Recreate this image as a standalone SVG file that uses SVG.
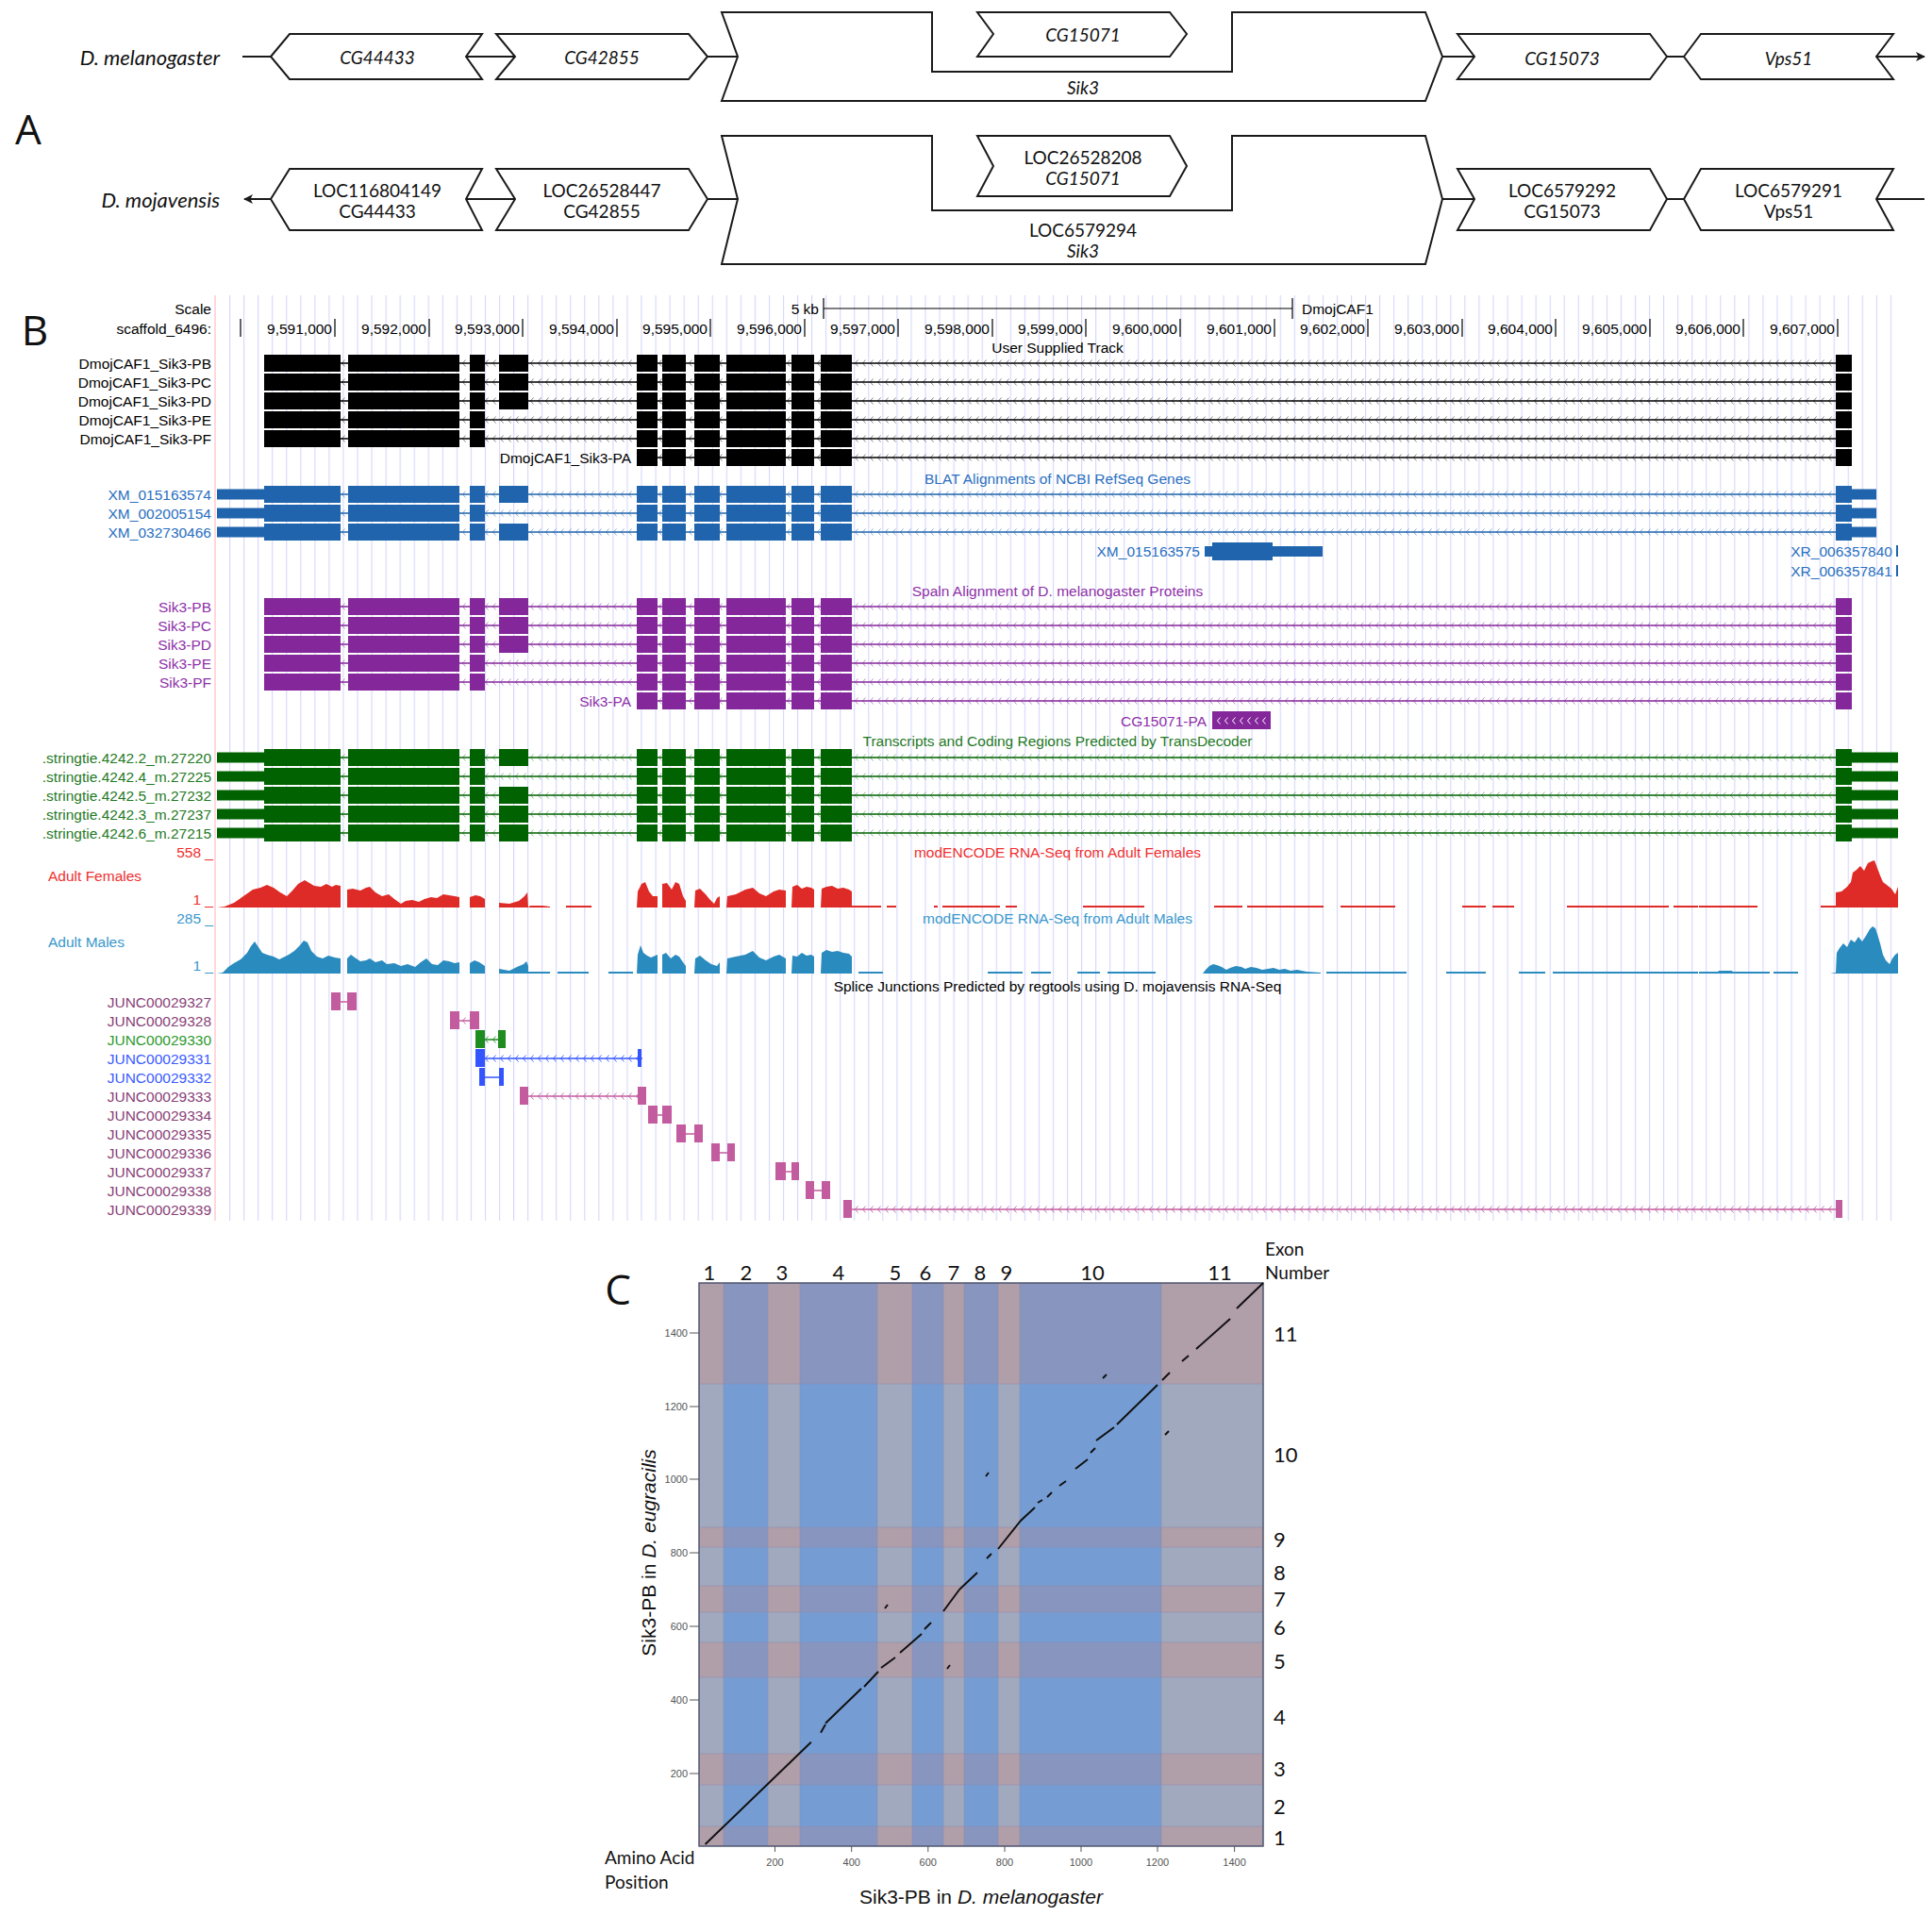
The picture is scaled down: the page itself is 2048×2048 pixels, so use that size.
<svg xmlns="http://www.w3.org/2000/svg" xmlns:xlink="http://www.w3.org/1999/xlink" width="2048" height="2048" viewBox="0 0 2048 2048">
<style>
.ga{font-family:Lato,"Open Sans","Liberation Sans",sans-serif;font-size:19px;fill:#111;text-anchor:middle;dominant-baseline:central}
.gi{font-style:italic}
.sp{font-size:22px;text-anchor:end}
.box{fill:#fff;stroke:#1a1a1a;stroke-width:2;stroke-linejoin:miter}
.ln{stroke:#1a1a1a;stroke-width:2;fill:none}
.pl{font-family:"Open Sans",Lato,sans-serif;font-size:44px;fill:#111;dominant-baseline:central;text-anchor:middle}
.u{font-family:"Liberation Sans",Arial,sans-serif;font-size:15.5px;dominant-baseline:central}
.r{text-anchor:end}
.m{text-anchor:middle}
.k{fill:#000}
.bl{fill:#2a6fc0}
.pu{fill:#8e30a8}
.gr{fill:#1f7a1f}
.rd{fill:#f03030}
.ml{fill:#3a98cc}
.jp{fill:#8a3f78}
.jg{fill:#2e9a2e}
.jb{fill:#3b5bff}
.cl{font-family:Lato,"Open Sans",sans-serif;fill:#111;dominant-baseline:central}
.tk{font-family:"Liberation Sans",Arial,sans-serif;font-size:11px;fill:#555;dominant-baseline:central}
.cP{fill:#a0a9bd}.cB{fill:#759dd4}
.rP{fill:#b09ea9}.rB{fill:#8896bf}
</style>
<defs>
<marker id="arr" viewBox="0 0 10 10" refX="9" refY="5" markerWidth="10" markerHeight="10" markerUnits="userSpaceOnUse" orient="auto"><path d="M0 0L10 5L0 10L2.5 5Z" fill="#1a1a1a"/></marker>
<pattern id="grid" patternUnits="userSpaceOnUse" x="243" y="0" width="15.05" height="10"><rect x="0" y="0" width="1.1" height="10" fill="#d6d6fb"/></pattern>
<pattern id="chK" patternUnits="userSpaceOnUse" width="8" height="10" y="-5"><path d="M5.5 1.5L2.5 5L5.5 8.5" fill="none" stroke="#000" stroke-width="0.9" stroke-opacity="0.55"/></pattern>
<pattern id="chB" patternUnits="userSpaceOnUse" width="8" height="10" y="-5"><path d="M5.5 1.5L2.5 5L5.5 8.5" fill="none" stroke="#1f64ac" stroke-width="0.9" stroke-opacity="0.6"/></pattern>
<pattern id="chP" patternUnits="userSpaceOnUse" width="8" height="10" y="-5"><path d="M5.5 1.5L2.5 5L5.5 8.5" fill="none" stroke="#84279a" stroke-width="0.9" stroke-opacity="0.6"/></pattern>
<pattern id="chG" patternUnits="userSpaceOnUse" width="8" height="10" y="-5"><path d="M5.5 1.5L2.5 5L5.5 8.5" fill="none" stroke="#006200" stroke-width="0.9" stroke-opacity="0.5"/></pattern>
<pattern id="chJ" patternUnits="userSpaceOnUse" width="8" height="10" y="-5"><path d="M5.5 1.5L2.5 5L5.5 8.5" fill="none" stroke="#c35c9f" stroke-width="0.9"/></pattern>
<pattern id="chJB" patternUnits="userSpaceOnUse" width="8" height="10" y="-5"><path d="M5.5 1.5L2.5 5L5.5 8.5" fill="none" stroke="#3355ff" stroke-width="0.9"/></pattern>
<pattern id="chJG" patternUnits="userSpaceOnUse" width="8" height="10" y="-5"><path d="M5.5 1.5L2.5 5L5.5 8.5" fill="none" stroke="#1e8c1e" stroke-width="0.9"/></pattern>
<pattern id="chW" patternUnits="userSpaceOnUse" width="8" height="10" y="-5"><path d="M5.5 1.5L2.5 5L5.5 8.5" fill="none" stroke="#fff" stroke-width="1"/></pattern>
<g id="ex0"><rect x="280" y="-9" width="81" height="18"/><rect x="369" y="-9" width="118" height="18"/><rect x="498" y="-9" width="16" height="18"/><rect x="675" y="-9" width="22" height="18"/><rect x="702" y="-9" width="25" height="18"/><rect x="736" y="-9" width="27" height="18"/><rect x="770" y="-9" width="63" height="18"/><rect x="839" y="-9" width="24" height="18"/><rect x="870" y="-9" width="33" height="18"/><rect x="1946" y="-9" width="17" height="18"/></g>
<rect id="e4" x="529" y="-9" width="31" height="18"/>
<g id="exA"><rect x="675" y="-9" width="22" height="18"/><rect x="702" y="-9" width="25" height="18"/><rect x="736" y="-9" width="27" height="18"/><rect x="770" y="-9" width="63" height="18"/><rect x="839" y="-9" width="24" height="18"/><rect x="870" y="-9" width="33" height="18"/><rect x="1946" y="-9" width="17" height="18"/></g>
<clipPath id="pinkRows"><rect x="741" y="1360" width="598" height="107"/><rect x="741" y="1619" width="598" height="21"/><rect x="741" y="1681" width="598" height="28"/><rect x="741" y="1741" width="598" height="37"/><rect x="741" y="1859" width="598" height="33"/><rect x="741" y="1936" width="598" height="21"/></clipPath>
</defs>
<rect width="2048" height="2048" fill="#fff"/>

<!-- ================= PANEL A ================= -->
<g id="panelA">
<text class="pl" x="30" y="136">A</text>
<g id="connectorsA">
<line class="ln" x1="257" y1="60" x2="287" y2="60"/>
<line class="ln" x1="494" y1="60" x2="546" y2="60"/>
<line class="ln" x1="750" y1="60" x2="782" y2="60"/>
<line class="ln" x1="1529" y1="60" x2="1563" y2="60"/>
<line class="ln" x1="1767" y1="60" x2="1785" y2="60"/>
<line class="ln" x1="1989" y1="60" x2="2040" y2="60" marker-end="url(#arr)"/>
<line class="ln" x1="287" y1="211" x2="259" y2="211" marker-end="url(#arr)"/>
<line class="ln" x1="494" y1="211" x2="546" y2="211"/>
<line class="ln" x1="750" y1="211" x2="782" y2="211"/>
<line class="ln" x1="1529" y1="211" x2="1563" y2="211"/>
<line class="ln" x1="1767" y1="211" x2="1785" y2="211"/>
<line class="ln" x1="1989" y1="211" x2="2040" y2="211"/>
</g>
<text class="ga gi sp" x="233" y="60">D. melanogaster</text>
<text class="ga gi sp" x="233" y="211">D. mojavensis</text>
<g id="mel-CG44433"><polygon class="box" points="287,60 307,36 511,36 494,60 511,84 307,84"/><text class="ga gi" x="400" y="60">CG44433</text></g>
<g id="mel-CG42855"><polygon class="box" points="526,36 730,36 750,60 730,84 526,84 546,60"/><text class="ga gi" x="638" y="60">CG42855</text></g>
<g id="mel-Sik3"><polygon class="box" points="765,13 988,13 988,76 1306,76 1306,13 1511,13 1529,60 1511,107 765,107 782,60"/><text class="ga gi" x="1148" y="92">Sik3</text></g>
<g id="mel-CG15071"><polygon class="box" points="1036,13 1240,13 1258,36 1240,60 1036,60 1053,36"/><text class="ga gi" x="1148" y="36">CG15071</text></g>
<g id="mel-CG15073"><polygon class="box" points="1545,36 1749,36 1767,60 1749,84 1545,84 1563,60"/><text class="ga gi" x="1656" y="61">CG15073</text></g>
<g id="mel-Vps51"><polygon class="box" points="1785,60 1803,36 2007,36 1989,60 2007,84 1803,84"/><text class="ga gi" x="1896" y="61">Vps51</text></g>

<g id="moj-LOC116804149"><polygon class="box" points="287,211 307,179 511,179 494,211 511,244 307,244"/><text class="ga" x="400" y="201">LOC116804149</text><text class="ga" x="400" y="223">CG44433</text></g>
<g id="moj-LOC26528447"><polygon class="box" points="526,179 730,179 750,211 730,244 526,244 546,211"/><text class="ga" x="638" y="201">LOC26528447</text><text class="ga" x="638" y="223">CG42855</text></g>
<g id="moj-LOC6579294"><polygon class="box" points="765,144 988,144 988,223 1306,223 1306,144 1511,144 1529,211 1511,280 765,280 782,211"/><text class="ga" x="1148" y="243">LOC6579294</text><text class="ga gi" x="1148" y="265">Sik3</text></g>
<g id="moj-LOC26528208"><polygon class="box" points="1036,144 1240,144 1258,176 1240,208 1036,208 1053,176"/><text class="ga" x="1148" y="166">LOC26528208</text><text class="ga gi" x="1148" y="188">CG15071</text></g>
<g id="moj-LOC6579292"><polygon class="box" points="1545,179 1749,179 1767,211 1749,244 1545,244 1563,211"/><text class="ga" x="1656" y="201">LOC6579292</text><text class="ga" x="1656" y="223">CG15073</text></g>
<g id="moj-LOC6579291"><polygon class="box" points="1785,211 1803,179 2007,179 1989,211 2007,244 1803,244"/><text class="ga" x="1896" y="201">LOC6579291</text><text class="ga" x="1896" y="223">Vps51</text></g>
</g>

<!-- ================= PANEL B ================= -->
<g id="panelB">
<text class="pl" x="37" y="349">B</text>
<rect x="243" y="313" width="1770" height="981" fill="url(#grid)"/>
<rect x="227.5" y="313" width="1" height="981" fill="#ffb4b4"/>

<g id="ruler">
<text class="u r k" x="224" y="327">Scale</text>
<text class="u r k" x="868" y="327">5 kb</text>
<path d="M873 327H1370M873 316V338M1370 316V338" stroke="#000" stroke-width="1.2" fill="none"/>
<text class="u k" x="1380" y="327">DmojCAF1</text>
<text class="u r k" x="224" y="348">scaffold_6496:</text>
<path d="M255 338V357M355 338V357M455 338V357M554 338V357M654 338V357M753 338V357M853 338V357M952 338V357M1052 338V357M1151 338V357M1251 338V357M1351 338V357M1450 338V357M1550 338V357M1649 338V357M1749 338V357M1848 338V357M1948 338V357" stroke="#000" stroke-width="1.2"/>
<g class="u r k">
<text x="352" y="348">9,591,000</text><text x="452" y="348">9,592,000</text><text x="551" y="348">9,593,000</text><text x="651" y="348">9,594,000</text><text x="750" y="348">9,595,000</text><text x="850" y="348">9,596,000</text><text x="949" y="348">9,597,000</text><text x="1049" y="348">9,598,000</text><text x="1148" y="348">9,599,000</text><text x="1248" y="348">9,600,000</text><text x="1348" y="348">9,601,000</text><text x="1447" y="348">9,602,000</text><text x="1547" y="348">9,603,000</text><text x="1646" y="348">9,604,000</text><text x="1746" y="348">9,605,000</text><text x="1845" y="348">9,606,000</text><text x="1945" y="348">9,607,000</text>
</g>
</g>

<g id="track-user">
<text class="u m k" x="1121" y="368">User Supplied Track</text>
<g class="u r k"><text x="224" y="385">DmojCAF1_Sik3-PB</text><text x="224" y="405">DmojCAF1_Sik3-PC</text><text x="224" y="425">DmojCAF1_Sik3-PD</text><text x="224" y="445">DmojCAF1_Sik3-PE</text><text x="224" y="465">DmojCAF1_Sik3-PF</text><text x="669" y="485">DmojCAF1_Sik3-PA</text></g>
<g fill="#000">
<g transform="translate(0,385)"><rect x="280" y="-0.75" width="1683" height="1.5"/><rect x="280" y="-5" width="1683" height="10" fill="url(#chK)"/><use href="#ex0"/><use href="#e4"/></g>
<g transform="translate(0,405)"><rect x="280" y="-0.75" width="1683" height="1.5"/><rect x="280" y="-5" width="1683" height="10" fill="url(#chK)"/><use href="#ex0"/><use href="#e4"/></g>
<g transform="translate(0,425)"><rect x="280" y="-0.75" width="1683" height="1.5"/><rect x="280" y="-5" width="1683" height="10" fill="url(#chK)"/><use href="#ex0"/><use href="#e4"/></g>
<g transform="translate(0,445)"><rect x="280" y="-0.75" width="1683" height="1.5"/><rect x="280" y="-5" width="1683" height="10" fill="url(#chK)"/><use href="#ex0"/></g>
<g transform="translate(0,465)"><rect x="280" y="-0.75" width="1683" height="1.5"/><rect x="280" y="-5" width="1683" height="10" fill="url(#chK)"/><use href="#ex0"/></g>
<g transform="translate(0,485)"><rect x="675" y="-0.75" width="1288" height="1.5"/><rect x="675" y="-5" width="1288" height="10" fill="url(#chK)"/><use href="#exA"/></g>
</g>
</g>

<g id="track-refseq">
<text class="u m bl" x="1121" y="507">BLAT Alignments of NCBI RefSeq Genes</text>
<g class="u r bl"><text x="224" y="524">XM_015163574</text><text x="224" y="544">XM_002005154</text><text x="224" y="564">XM_032730466</text><text x="1272" y="584">XM_015163575</text><text x="2006" y="584">XR_006357840</text><text x="2006" y="605">XR_006357841</text></g>
<g fill="#1f64ac">
<g transform="translate(0,524)"><rect x="230" y="-0.75" width="1759" height="1.5"/><rect x="280" y="-5" width="1683" height="10" fill="url(#chB)"/><rect x="230" y="-5.5" width="52" height="11"/><rect x="1961" y="-5.5" width="28" height="11"/><use href="#ex0"/><use href="#e4"/></g>
<g transform="translate(0,544)"><rect x="230" y="-0.75" width="1759" height="1.5"/><rect x="280" y="-5" width="1683" height="10" fill="url(#chB)"/><rect x="230" y="-5.5" width="52" height="11"/><rect x="1961" y="-5.5" width="28" height="11"/><use href="#ex0"/></g>
<g transform="translate(0,564)"><rect x="230" y="-0.75" width="1759" height="1.5"/><rect x="280" y="-5" width="1683" height="10" fill="url(#chB)"/><rect x="230" y="-5.5" width="52" height="11"/><rect x="1961" y="-5.5" width="28" height="11"/><use href="#ex0"/><use href="#e4"/></g>
<rect x="1277" y="579" width="125" height="11"/><rect x="1285" y="575" width="64" height="19"/>
<rect x="2010" y="578" width="2" height="12"/><rect x="2010" y="599" width="2" height="12"/>
</g>
</g>

<g id="track-spaln">
<text class="u m pu" x="1121" y="626">Spaln Alignment of D. melanogaster Proteins</text>
<g class="u r pu"><text x="224" y="643">Sik3-PB</text><text x="224" y="663">Sik3-PC</text><text x="224" y="683">Sik3-PD</text><text x="224" y="703">Sik3-PE</text><text x="224" y="723">Sik3-PF</text><text x="669" y="743">Sik3-PA</text><text x="1279" y="764">CG15071-PA</text></g>
<g fill="#84279a">
<g transform="translate(0,643)"><rect x="280" y="-0.75" width="1683" height="1.5"/><rect x="280" y="-5" width="1683" height="10" fill="url(#chP)"/><use href="#ex0"/><use href="#e4"/></g>
<g transform="translate(0,663)"><rect x="280" y="-0.75" width="1683" height="1.5"/><rect x="280" y="-5" width="1683" height="10" fill="url(#chP)"/><use href="#ex0"/><use href="#e4"/></g>
<g transform="translate(0,683)"><rect x="280" y="-0.75" width="1683" height="1.5"/><rect x="280" y="-5" width="1683" height="10" fill="url(#chP)"/><use href="#ex0"/><use href="#e4"/></g>
<g transform="translate(0,703)"><rect x="280" y="-0.75" width="1683" height="1.5"/><rect x="280" y="-5" width="1683" height="10" fill="url(#chP)"/><use href="#ex0"/></g>
<g transform="translate(0,723)"><rect x="280" y="-0.75" width="1683" height="1.5"/><rect x="280" y="-5" width="1683" height="10" fill="url(#chP)"/><use href="#ex0"/></g>
<g transform="translate(0,743)"><rect x="675" y="-0.75" width="1288" height="1.5"/><rect x="675" y="-5" width="1288" height="10" fill="url(#chP)"/><use href="#exA"/></g>
<g transform="translate(0,764)"><rect x="1285" y="-10" width="62" height="19"/><rect x="1287" y="-5" width="58" height="10" fill="url(#chW)"/></g>
</g>
</g>

<g id="track-transdecoder">
<text class="u m gr" x="1121" y="785">Transcripts and Coding Regions Predicted by TransDecoder</text>
<g class="u r gr"><text x="224" y="803">.stringtie.4242.2_m.27220</text><text x="224" y="823">.stringtie.4242.4_m.27225</text><text x="224" y="843">.stringtie.4242.5_m.27232</text><text x="224" y="863">.stringtie.4242.3_m.27237</text><text x="224" y="883">.stringtie.4242.6_m.27215</text></g>
<g fill="#006200">
<g transform="translate(0,803)"><rect x="230" y="-0.75" width="1782" height="1.5"/><rect x="280" y="-5" width="1683" height="10" fill="url(#chG)"/><rect x="230" y="-5.5" width="52" height="11"/><rect x="1961" y="-5.5" width="51" height="11"/><use href="#ex0"/><use href="#e4"/></g>
<g transform="translate(0,823)"><rect x="230" y="-0.75" width="1782" height="1.5"/><rect x="280" y="-5" width="1683" height="10" fill="url(#chG)"/><rect x="230" y="-5.5" width="52" height="11"/><rect x="1961" y="-5.5" width="51" height="11"/><use href="#ex0"/></g>
<g transform="translate(0,843)"><rect x="230" y="-0.75" width="1782" height="1.5"/><rect x="280" y="-5" width="1683" height="10" fill="url(#chG)"/><rect x="230" y="-5.5" width="52" height="11"/><rect x="1961" y="-5.5" width="51" height="11"/><use href="#ex0"/><use href="#e4"/></g>
<g transform="translate(0,863)"><rect x="230" y="-0.75" width="1782" height="1.5"/><rect x="280" y="-5" width="1683" height="10" fill="url(#chG)"/><rect x="230" y="-5.5" width="52" height="11"/><rect x="1961" y="-5.5" width="51" height="11"/><use href="#ex0"/><use href="#e4"/></g>
<g transform="translate(0,883)"><rect x="230" y="-0.75" width="1782" height="1.5"/><rect x="280" y="-5" width="1683" height="10" fill="url(#chG)"/><rect x="230" y="-5.5" width="52" height="11"/><rect x="1961" y="-5.5" width="51" height="11"/><use href="#ex0"/><use href="#e4"/></g>
</g>
</g>

<g id="track-females">
<text class="u m rd" x="1121" y="903">modENCODE RNA-Seq from Adult Females</text>
<text class="u r rd" x="226" y="903">558 _</text>
<text class="u rd" x="51" y="928">Adult Females</text>
<text class="u r rd" x="226" y="953">1 _</text>
<g fill="#df2b27">
<polygon points="230,962 238,961 248,957 258,950 268,943 276,941 283,938 290,941 297,946 304,950 310,944 316,937 323,933 328,936 333,939 340,940 346,937 352,940 356,938 361,939 361,962"/>
<polygon points="368,962 368,943 374,942 382,944 388,941 392,940 398,946 405,950 412,948 418,953 425,958 430,955 437,954 444,956 450,953 457,951 463,952 470,948 476,949 482,950 487,951 487,962"/>
<polygon points="498,962 498,951 504,949 509,950 514,953 514,962"/>
<polygon points="529,962 529,957 540,958 550,955 556,950 559,946 560,962"/>
<polygon points="560,962 562,960 575,960 583,961 583,962"/>
<polygon points="675,962 676,945 680,937 684,935 688,945 692,950 697,950 697,962"/>
<polygon points="702,962 702,937 707,936 712,943 716,935 720,937 724,950 727,955 727,962"/>
<polygon points="736,962 737,944 742,942 748,948 752,953 757,958 760,952 763,950 763,962"/>
<polygon points="770,962 771,950 780,948 790,943 798,941 805,947 812,950 820,945 826,943 833,944 833,962"/>
<polygon points="839,962 840,940 845,938 850,942 855,940 860,941 863,943 863,962"/>
<polygon points="870,962 871,942 876,940 882,939 888,942 894,941 900,943 903,945 903,962"/>
<polygon points="1946,962 1946,946 1952,945 1958,940 1962,935 1964,925 1968,922 1972,918 1976,923 1980,915 1984,913 1987,912 1990,920 1993,928 1996,935 2000,938 2005,942 2009,948 2012,940 2012,962"/>
</g>
<path d="M600 961H627M903 961H934M940 961H950M990 961H994M999 961H1060M1066 961H1078M1148 961H1213M1287 961H1317M1322 961H1403M1421 961H1479M1550 961H1575M1582 961H1605M1661 961H1769M1774 961H1800M1801 961H1863M1930 961H1946" stroke="#df2b27" stroke-width="2"/>
</g>

<g id="track-males">
<text class="u m ml" x="1121" y="973">modENCODE RNA-Seq from Adult Males</text>
<text class="u r ml" x="226" y="973">285 _</text>
<text class="u ml" x="51" y="998">Adult Males</text>
<text class="u r ml" x="226" y="1023">1 _</text>
<g fill="#2a8bbf">
<polygon points="230,1032 236,1031 242,1025 248,1021 255,1017 262,1010 266,1003 270,998 274,1004 278,1010 283,1012 290,1014 296,1017 300,1015 306,1012 312,1008 318,1002 322,997 326,999 330,1008 336,1014 342,1016 348,1013 355,1015 361,1016 361,1032"/>
<polygon points="368,1032 368,1016 372,1012 376,1015 382,1019 388,1018 392,1016 398,1020 405,1018 410,1022 418,1021 425,1024 432,1022 440,1025 446,1020 452,1016 458,1022 464,1023 470,1018 476,1019 482,1021 487,1020 487,1032"/>
<polygon points="498,1032 498,1021 503,1018 508,1020 514,1024 514,1032"/>
<polygon points="529,1032 529,1027 540,1029 548,1025 555,1022 558,1019 560,1024 560,1032"/>
<polygon points="675,1032 676,1012 679,1002 682,1010 686,1013 690,1015 697,1012 697,1032"/>
<polygon points="702,1032 702,1012 706,1010 711,1016 716,1012 720,1014 724,1020 727,1024 727,1032"/>
<polygon points="736,1032 737,1016 742,1013 748,1018 754,1022 760,1024 763,1020 763,1032"/>
<polygon points="770,1032 771,1016 780,1014 790,1012 798,1008 805,1015 812,1018 820,1014 826,1012 833,1016 833,1032"/>
<polygon points="839,1032 840,1013 845,1014 850,1010 855,1013 860,1012 863,1014 863,1032"/>
<polygon points="870,1032 871,1010 876,1007 882,1009 888,1008 894,1010 900,1011 903,1014 903,1032"/>
<polygon points="1275,1032 1278,1028 1282,1024 1286,1022 1290,1023 1295,1025 1300,1028 1304,1026 1310,1024 1316,1025 1320,1027 1326,1025 1332,1026 1338,1028 1344,1027 1350,1026 1356,1028 1362,1027 1368,1029 1375,1028 1385,1030 1400,1031 1400,1032"/>
<polygon points="1820,1032 1822,1029 1836,1029 1838,1032"/>
<polygon points="1940,1032 1946,1031 1947,1010 1950,1005 1954,1000 1958,1004 1962,996 1966,999 1970,993 1974,998 1978,992 1982,985 1985,982 1988,984 1990,990 1993,1000 1996,1012 1999,1018 2003,1022 2006,1016 2009,1012 2012,1010 2012,1032"/>
</g>
<path d="M560 1031H583M591 1031H624M645 1031H671M910 1031H936M1047 1031H1084M1093 1031H1114M1142 1031H1166M1174 1031H1225M1406 1031H1491M1533 1031H1575M1610 1031H1638M1646 1031H1800M1801 1031H1876M1880 1031H1906" stroke="#2a8bbf" stroke-width="2"/>
</g>

<g id="track-junctions">
<text class="u m k" x="1121" y="1045">Splice Junctions Predicted by regtools using D. mojavensis RNA-Seq</text>
<g class="u r jp"><text x="224" y="1062">JUNC00029327</text><text x="224" y="1082">JUNC00029328</text><text x="224" y="1102" class="jg">JUNC00029330</text><text x="224" y="1122" class="jb">JUNC00029331</text><text x="224" y="1142" class="jb">JUNC00029332</text><text x="224" y="1162">JUNC00029333</text><text x="224" y="1182">JUNC00029334</text><text x="224" y="1202">JUNC00029335</text><text x="224" y="1222">JUNC00029336</text><text x="224" y="1242">JUNC00029337</text><text x="224" y="1262">JUNC00029338</text><text x="224" y="1282">JUNC00029339</text></g>
<g fill="#c35c9f">
<g transform="translate(0,1062)"><rect x="351" y="-0.75" width="27" height="1.5"/><rect x="351" y="-10" width="10" height="19"/><rect x="368" y="-10" width="10" height="19"/></g>
<g transform="translate(0,1082)"><rect x="477" y="-0.75" width="31" height="1.5"/><rect x="487" y="-5" width="11" height="10" fill="url(#chJ)"/><rect x="477" y="-10" width="10" height="19"/><rect x="498" y="-10" width="10" height="19"/></g>
<g transform="translate(0,1102)" fill="#1e8c1e"><rect x="504" y="-0.75" width="32" height="1.5"/><rect x="514" y="-5" width="14" height="10" fill="url(#chJG)"/><rect x="504" y="-10" width="10" height="19"/><rect x="528" y="-10" width="8" height="19"/></g>
<g transform="translate(0,1122)" fill="#3355ff"><rect x="504" y="-0.75" width="177" height="1.5"/><rect x="514" y="-5" width="162" height="10" fill="url(#chJB)"/><rect x="504" y="-10" width="10" height="19"/><rect x="676" y="-10" width="4" height="19"/></g>
<g transform="translate(0,1142)" fill="#3355ff"><rect x="508" y="-0.75" width="26" height="1.5"/><rect x="508" y="-10" width="6" height="19"/><rect x="529" y="-10" width="5" height="19"/></g>
<g transform="translate(0,1162)"><rect x="551" y="-0.75" width="134" height="1.5"/><rect x="560" y="-5" width="116" height="10" fill="url(#chJ)"/><rect x="551" y="-10" width="9" height="19"/><rect x="676" y="-10" width="9" height="19"/></g>
<g transform="translate(0,1182)"><rect x="687" y="-0.75" width="25" height="1.5"/><rect x="687" y="-10" width="10" height="19"/><rect x="702" y="-10" width="10" height="19"/></g>
<g transform="translate(0,1202)"><rect x="717" y="-0.75" width="28" height="1.5"/><rect x="717" y="-10" width="10" height="19"/><rect x="736" y="-10" width="9" height="19"/></g>
<g transform="translate(0,1222)"><rect x="754" y="-0.75" width="25" height="1.5"/><rect x="754" y="-10" width="9" height="19"/><rect x="771" y="-10" width="8" height="19"/></g>
<g transform="translate(0,1242)"><rect x="822" y="-0.75" width="25" height="1.5"/><rect x="822" y="-10" width="11" height="19"/><rect x="839" y="-10" width="8" height="19"/></g>
<g transform="translate(0,1262)"><rect x="854" y="-0.75" width="26" height="1.5"/><rect x="854" y="-10" width="9" height="19"/><rect x="871" y="-10" width="9" height="19"/></g>
<g transform="translate(0,1282)"><rect x="894" y="-0.75" width="1059" height="1.5"/><rect x="903" y="-5" width="1043" height="10" fill="url(#chJ)"/><rect x="894" y="-10" width="9" height="19"/><rect x="1946" y="-10" width="7" height="19"/></g>
</g>
</g>
</g>

<!-- ================= PANEL C ================= -->
<g id="panelC">
<text class="pl" x="655" y="1366">C</text>
<g id="cols">
<rect class="cP" x="741" y="1360" width="26" height="597"/><rect class="cB" x="767" y="1360" width="47" height="597"/><rect class="cP" x="814" y="1360" width="34" height="597"/><rect class="cB" x="848" y="1360" width="82" height="597"/><rect class="cP" x="930" y="1360" width="37" height="597"/><rect class="cB" x="967" y="1360" width="33" height="597"/><rect class="cP" x="1000" y="1360" width="22" height="597"/><rect class="cB" x="1022" y="1360" width="36" height="597"/><rect class="cP" x="1058" y="1360" width="23" height="597"/><rect class="cB" x="1081" y="1360" width="150" height="597"/><rect class="cP" x="1231" y="1360" width="108" height="597"/>
</g>
<g id="pinkrows" clip-path="url(#pinkRows)">
<rect class="rP" x="741" y="1360" width="26" height="597"/><rect class="rB" x="767" y="1360" width="47" height="597"/><rect class="rP" x="814" y="1360" width="34" height="597"/><rect class="rB" x="848" y="1360" width="82" height="597"/><rect class="rP" x="930" y="1360" width="37" height="597"/><rect class="rB" x="967" y="1360" width="33" height="597"/><rect class="rP" x="1000" y="1360" width="22" height="597"/><rect class="rB" x="1022" y="1360" width="36" height="597"/><rect class="rP" x="1058" y="1360" width="23" height="597"/><rect class="rB" x="1081" y="1360" width="150" height="597"/><rect class="rP" x="1231" y="1360" width="108" height="597"/>
</g>
<path d="M767 1360V1957M814 1360V1957M848 1360V1957M930 1360V1957M967 1360V1957M1000 1360V1957M1022 1360V1957M1058 1360V1957M1081 1360V1957M1231 1360V1957M741 1467H1339M741 1619H1339M741 1640H1339M741 1681H1339M741 1709H1339M741 1741H1339M741 1778H1339M741 1859H1339M741 1892H1339M741 1936H1339" stroke="#8a86b0" stroke-width="1" stroke-opacity="0.45" fill="none"/>
<rect x="741" y="1360" width="598" height="597" fill="none" stroke="#4f5670" stroke-width="1.5"/>
<path d="M731 1413H741M731 1491H741M731 1568H741M731 1646H741M731 1724H741M731 1802H741M731 1880H741M821.5 1957V1963M902.7 1957V1963M983.8 1957V1963M1065 1957V1963M1146 1957V1963M1227 1957V1963M1308.6 1957V1963" stroke="#555" stroke-width="1"/>
<g class="tk" text-anchor="end"><text x="729" y="1413">1400</text><text x="729" y="1491">1200</text><text x="729" y="1568">1000</text><text x="729" y="1646">800</text><text x="729" y="1724">600</text><text x="729" y="1802">400</text><text x="729" y="1880">200</text></g>
<g class="tk" text-anchor="middle"><text x="821.5" y="1974">200</text><text x="902.7" y="1974">400</text><text x="983.8" y="1974">600</text><text x="1065" y="1974">800</text><text x="1146" y="1974">1000</text><text x="1227" y="1974">1200</text><text x="1308.6" y="1974">1400</text></g>
<path id="dots" d="M747.6 1955L859.8 1846.7M870 1836.7L875 1828M875 1826.7L913 1790M916 1788L931 1772M934 1768L949 1757M954 1752L977 1732M980 1727L987 1720M1000 1708L1017 1685M1017 1685L1036 1667M1046 1652L1051 1647M1058 1642L1082 1612L1097 1598M1100 1593L1105 1590M1110 1587L1115 1582M1123 1575L1130 1570M1140 1557L1153 1547M1156 1540L1161 1535M1162 1527L1181 1513M1184 1510L1227 1468M1232 1463L1240 1455M1253 1443L1260 1437M1268 1430L1304 1398M1311 1387L1339 1360M1169 1461L1173 1457M1045 1565L1048 1561M1235 1521L1239 1517M938 1705L941 1701M1004 1769L1007 1765" stroke="#111" stroke-width="2" fill="none"/>
<g class="cl" font-size="22" text-anchor="middle"><text x="752" y="1348">1</text><text x="791" y="1348">2</text><text x="829" y="1348">3</text><text x="889" y="1348">4</text><text x="949" y="1348">5</text><text x="981" y="1348">6</text><text x="1011" y="1348">7</text><text x="1039" y="1348">8</text><text x="1067" y="1348">9</text><text x="1158" y="1348">10</text><text x="1293" y="1348">11</text></g>
<g class="cl" font-size="19"><text x="1341" y="1323">Exon</text><text x="1341" y="1348">Number</text><text x="641" y="1968">Amino Acid</text><text x="641" y="1994">Position</text></g>
<g class="cl" font-size="22"><text x="1350" y="1413">11</text><text x="1350" y="1541">10</text><text x="1350" y="1631">9</text><text x="1350" y="1666">8</text><text x="1350" y="1694">7</text><text x="1350" y="1724">6</text><text x="1350" y="1760">5</text><text x="1350" y="1819">4</text><text x="1350" y="1874">3</text><text x="1350" y="1914">2</text><text x="1350" y="1947">1</text></g>
<text font-family="Liberation Sans,Arial,sans-serif" font-size="21" fill="#111" text-anchor="middle" dominant-baseline="central" x="1040" y="2010">Sik3-PB in <tspan font-style="italic">D. melanogaster</tspan></text>
<text font-family="Liberation Sans,Arial,sans-serif" font-size="21" fill="#111" text-anchor="middle" dominant-baseline="central" transform="translate(687,1646) rotate(-90)">Sik3-PB in <tspan font-style="italic">D. eugracilis</tspan></text>
</g>
</svg>
